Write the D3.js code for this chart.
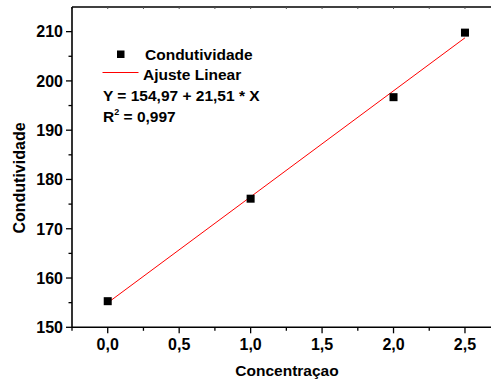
<!DOCTYPE html>
<html>
<head>
<meta charset="utf-8">
<script src="https://cdn.jsdelivr.net/npm/d3@7"></script>
<style>
  body { margin: 0; background: #fff; }
  svg { display: block; font-family: "Liberation Sans", Arial, sans-serif; font-weight: bold; }
</style>
</head>
<body>
<div id="chart"></div>
<script>
// measured data
const concentracao = [0.0, 1.0, 2.0, 2.5];
const condutividade = [155.3, 176.1, 196.7, 209.8];
const fitIntercept = 154.97;
const fitSlope = 21.51;
const xTicks = [0, 0.5, 1.0, 1.5, 2.0, 2.5];
const yTicks = [150, 160, 170, 180, 190, 200, 210];

const width = 491, height = 382;
const fmt = d => d3.format(".1f")(d).replace(".", ",");

const svg = d3.select("#chart").append("svg")
    .attr("width", width)
    .attr("height", height);

const x = d3.scaleLinear().domain([-0.25, 2.75]).range([72, 500.7]);
const y = d3.scaleLinear().domain([150, 215]).range([327.3, 7]);

// minor ticks
const xMinor = d3.range(-0.25, 2.8, 0.25).filter(v => Math.abs(v * 2 - Math.round(v * 2)) > 1e-6);
const yMinor = d3.range(155, 215, 10);

const g = svg.append("g");

// bottom axis
const bottomAxis = g.append("g").attr("transform", `translate(0,${y(150)})`);
bottomAxis.append("line").attr("x1", x.range()[0]).attr("x2", width).attr("stroke", "#000").attr("stroke-width", 1.6);
bottomAxis.selectAll(".maj").data(xTicks).join("line").attr("class", "maj")
    .attr("x1", d => x(d)).attr("x2", d => x(d)).attr("y1", 0).attr("y2", 6)
    .attr("stroke", "#000").attr("stroke-width", 1.3);
bottomAxis.selectAll(".min").data(xMinor).join("line").attr("class", "min")
    .attr("x1", d => x(d)).attr("x2", d => x(d)).attr("y1", 0).attr("y2", 3.5)
    .attr("stroke", "#000").attr("stroke-width", 1.3);
bottomAxis.selectAll("text").data(xTicks).join("text")
    .attr("x", d => x(d)).attr("y", 23)
    .attr("text-anchor", "middle")
    .attr("font-size", 16)
    .text(fmt);

// top frame
const topFrame = g.append("g").attr("transform", `translate(0,${y(215)})`);
topFrame.append("line").attr("x1", x.range()[0]).attr("x2", width).attr("stroke", "#000").attr("stroke-width", 1.6);
topFrame.selectAll("line.t").data(xTicks.concat(xMinor)).join("line").attr("class", "t")
    .attr("x1", d => x(d)).attr("x2", d => x(d)).attr("y1", 0).attr("y2", 2)
    .attr("stroke", "#555").attr("stroke-width", 1);

// left axis
const leftAxis = g.append("g").attr("transform", `translate(${x(-0.25)},0)`);
leftAxis.append("line").attr("y1", y(215)).attr("y2", y(150)).attr("stroke", "#000").attr("stroke-width", 1.6);
leftAxis.selectAll(".maj").data(yTicks).join("line").attr("class", "maj")
    .attr("y1", d => y(d)).attr("y2", d => y(d)).attr("x1", 0).attr("x2", -6)
    .attr("stroke", "#000").attr("stroke-width", 1.3);
leftAxis.selectAll(".min").data(yMinor).join("line").attr("class", "min")
    .attr("y1", d => y(d)).attr("y2", d => y(d)).attr("x1", 0).attr("x2", -3.5)
    .attr("stroke", "#000").attr("stroke-width", 1.3);
leftAxis.selectAll("text").data(yTicks).join("text")
    .attr("x", -9).attr("y", d => y(d)).attr("dy", "0.36em")
    .attr("text-anchor", "end")
    .attr("font-size", 16)
    .text(d => d);

// axis titles
svg.append("text")
    .attr("x", 287).attr("y", 376)
    .attr("text-anchor", "middle")
    .attr("font-size", 15.5)
    .text("Concentraçao");
svg.append("text")
    .attr("transform", "translate(25,178) rotate(-90)")
    .attr("text-anchor", "middle")
    .attr("font-size", 16)
    .text("Condutividade");

// fit line
svg.append("line")
    .attr("x1", x(0)).attr("y1", y(fitIntercept))
    .attr("x2", x(2.5)).attr("y2", y(fitIntercept + fitSlope * 2.5))
    .attr("stroke", "#ff0000").attr("stroke-width", 1);

// data points
const pts = concentracao.map((c, i) => ({ c, v: condutividade[i] }));
svg.selectAll("rect.pt").data(pts).join("rect").attr("class", "pt")
    .attr("x", d => x(d.c) - 4).attr("y", d => y(d.v) - 4)
    .attr("width", 8).attr("height", 8)
    .attr("fill", "#000");

// legend
const lg = svg.append("g").attr("font-size", 15.5);
lg.append("rect").attr("x", 117).attr("y", 50.5).attr("width", 7.5).attr("height", 7.5).attr("fill", "#000");
lg.append("text").attr("x", 145).attr("y", 59.5).text("Condutividade");
lg.append("line").attr("x1", 102.5).attr("x2", 138.5).attr("y1", 72.5).attr("y2", 72.5)
    .attr("stroke", "#ff0000").attr("stroke-width", 1);
lg.append("text").attr("x", 143).attr("y", 79.5).text("Ajuste Linear");
lg.append("text").attr("x", 103).attr("y", 100.5)
    .text(`Y = ${fitIntercept.toFixed(2).replace(".", ",")} + ${fitSlope.toFixed(2).replace(".", ",")} * X`);
const r2 = lg.append("text").attr("x", 103).attr("y", 122);
r2.append("tspan").text("R");
r2.append("tspan").attr("font-size", 9).attr("dy", -7).text("2");
r2.append("tspan").attr("dy", 7).text(" = 0,997");
</script>
</body>
</html>
